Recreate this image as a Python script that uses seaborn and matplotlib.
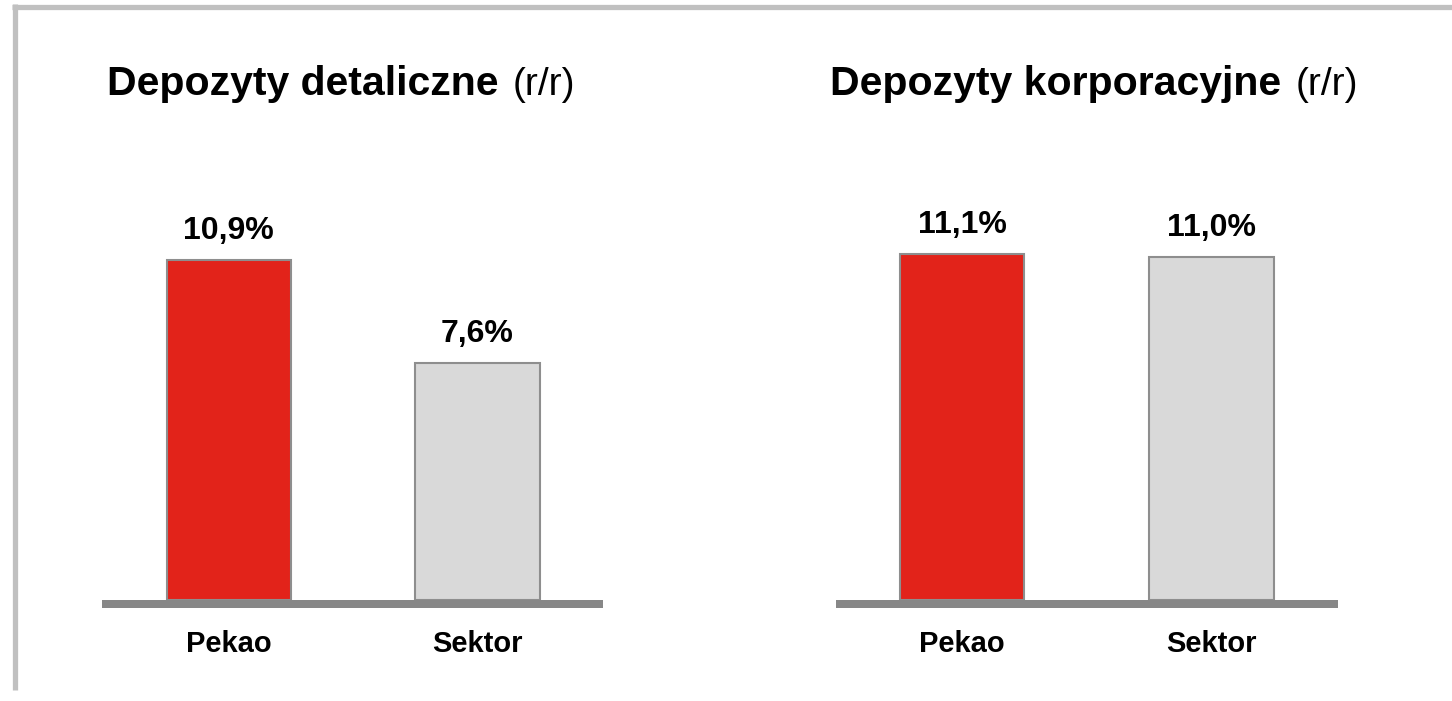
import pandas as pd
import matplotlib.pyplot as plt
import seaborn as sns
from matplotlib.lines import Line2D

# dane z wykresu (zmiana r/r, %)
kategorie = ['Pekao', 'Sektor']
detaliczne = [10.9, 7.6]
korporacyjne = [11.1, 11.0]
tytuly = ['Depozyty detaliczne', 'Depozyty korporacyjne']
dopisek = '(r/r)'

CZERWONY = '#E2231A'
SZARY = '#D9D9D9'
KRAWEDZ = '#8E8E8E'
PODSTAWA = '#878787'
RAMKA = '#C0C0C0'

sns.set_theme(style='white')
plt.rcParams['font.family'] = ['Liberation Sans', 'DejaVu Sans']
plt.rcParams['text.color'] = 'black'
plt.rcParams['xtick.color'] = 'black'

W, H = 1452, 701
fig = plt.figure(figsize=(W / 100, H / 100), dpi=100)
fig.patch.set_facecolor('white')

# ramka (gorna i lewa krawedz)
fig.add_artist(Line2D([12 / W, 1.0], [1 - 6.5 / H, 1 - 6.5 / H], color=RAMKA, lw=3.8, solid_capstyle='butt'))
fig.add_artist(Line2D([14.5 / W, 14.5 / W], [1 - 4 / H, 1 - 690 / H], color=RAMKA, lw=3.8, solid_capstyle='butt'))

px = 31.15  # pikseli na 1 p.p.
y_dol = -8 / px
y_gora = (600 - 150) / px
ax_bottom = 1 - 608 / H
ax_height = 458 / H

panele = [
    (detaliczne, 102, 501, (-0.51, 1.505), 107),
    (korporacyjne, 836, 502, (-0.505, 1.507), 830),
]

renderer = fig.canvas.get_renderer()
for i, (wartosci, x0, szer, xlim, tx) in enumerate(panele):
    ax = fig.add_axes([x0 / W, ax_bottom, szer / W, ax_height])
    df = pd.DataFrame({'kategoria': kategorie, 'wartosc': wartosci})
    sns.barplot(data=df, x='kategoria', y='wartosc', hue='kategoria',
                palette=[CZERWONY, SZARY], saturation=1, edgecolor=KRAWEDZ,
                linewidth=1.5, width=0.5, legend=False, ax=ax)
    ax.axhspan(y_dol, 0, color=PODSTAWA, lw=0)
    ax.set_xlim(*xlim)
    ax.set_ylim(y_dol, y_gora)
    ax.set_yticks([])
    ax.set_xlabel('')
    ax.set_ylabel('')
    for s in ax.spines.values():
        s.set_visible(False)
    ax.tick_params(axis='x', length=0, pad=15.5)
    for lab in ax.get_xticklabels():
        lab.set_fontsize(21)
        lab.set_fontweight('bold')
        lab.set_color('black')
    for j, v in enumerate(wartosci):
        ax.annotate(f'{v:.1f}'.replace('.', ',') + '%', (j, v),
                    xytext=(0, 10.5), textcoords='offset points',
                    ha='center', va='bottom', fontsize=23, fontweight='bold',
                    color='black')

    t = fig.text(tx / W, 1 - 95 / H, tytuly[i], fontsize=29.5, fontweight='bold',
                 ha='left', va='baseline', color='black')
    bb = t.get_window_extent(renderer=renderer)
    fig.text((bb.x1 + 14) / W, 1 - 95 / H, dopisek, fontsize=28,
             ha='left', va='baseline', color='black')

fig.savefig('out.png', dpi=100, facecolor='white')
